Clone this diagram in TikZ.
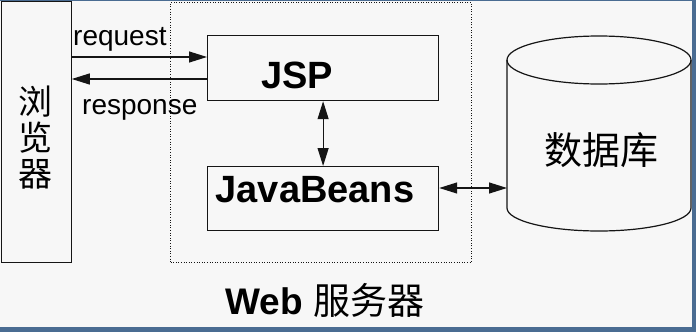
\documentclass[tikz,border=0pt]{standalone}
\usepackage{fontspec}
\setmainfont{Liberation Sans}
\newfontfamily\cjk{Noto Sans CJK SC}
\usetikzlibrary{arrows.meta}
\definecolor{bg}{HTML}{F7F7F7}
\definecolor{framec}{HTML}{4A6C92}
\definecolor{ink}{HTML}{151515}
\begin{document}
\begin{tikzpicture}[x=1pt,y=-1pt,
  box/.style={draw=ink, line width=1.2pt, inner sep=0pt, anchor=north west},
  tip/.tip={Triangle[length=18pt,width=11pt]},
  biarr/.style={draw=ink, line width=1.2pt, tip-tip},
  arr/.style={draw=ink, line width=1.2pt, -tip},
  lbl/.style={font=\fontsize{28}{30}\selectfont, inner sep=0pt},
  big/.style={font=\bfseries\fontsize{38}{40}\selectfont, inner sep=0pt}]
\fill[bg] (0,0) rectangle (696,332);
\useasboundingbox (0,0) rectangle (696,332);
% window frame
\fill[framec] (692,0) rectangle (696,332);
\fill[framec] (0,327) rectangle (696,332);
\fill[framec] (0,0) rectangle (696,1.2);
% web server group
\node[draw=ink, dash pattern=on 1pt off 1.6pt, line width=1.1pt, anchor=north west, inner sep=0pt,
      minimum width=301pt, minimum height=260pt] (server) at (170,2) {};
\node[font=\fontsize{37}{40}\selectfont, inner sep=0pt] (weblbl) at (325,300) {\textbf{Web} {\cjk 服务器}};
% browser
\node[box, minimum width=70pt, minimum height=261pt] (browser) at (0.6,1) {};
\node[font=\cjk\fontsize{34}{36}\selectfont, align=center, inner sep=0pt] (btxt) at (35,138) {浏\\览\\器};
% JSP
\node[box, minimum width=231pt, minimum height=65pt] (jsp) at (207,35) {};
\node[big] (jsptxt) at (297,75) {JSP};
% JavaBeans
\node[box, minimum width=231pt, minimum height=64pt] (jb) at (207,166) {};
\node[big] (jbtxt) at (315,190) {JavaBeans};
% database cylinder
\draw[ink, line width=1.2pt] (507,60) -- (507,208)
  arc[start angle=180, end angle=0, x radius=92, y radius=23] -- (691,60);
\draw[ink, line width=1.2pt] (599,60) ellipse [x radius=92, y radius=24];
\node[font=\cjk\fontsize{38}{40}\selectfont, inner sep=0pt] (db) at (601,150) {数据库};
\coordinate (dbw) at (507,188);
% connectors
\coordinate (req) at (0,57);
\coordinate (resp) at (0,79);
\draw[arr] (browser.east |- req) -- (jsp.west |- req);
\draw[arr] (jsp.west |- resp) -- (browser.east |- resp);
\node[lbl, anchor=base west] (reqlbl) at (73,45) {request};
\node[lbl, anchor=base west] (resplbl) at (82,114) {response};
\draw[biarr] (jsp.south) -- (jb.north);
\draw[biarr] (jb.east |- dbw) -- (dbw);
\end{tikzpicture}
\end{document}
